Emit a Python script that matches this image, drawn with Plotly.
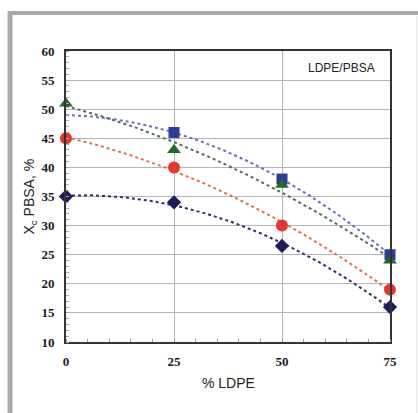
import numpy as np
import plotly.graph_objects as go

# Data
ldpe_pct = [0, 25, 50, 75]
ldpe_pct_blue = [25, 50, 75]
blue_sq = [46, 38, 25]
green_tri = [51, 43, 37, 24]
red_circ = [45, 40, 30, 19]
navy_dia = [35, 34, 26.5, 16]
x_ticks = [0, 25, 50, 75]
y_ticks = list(range(10, 61, 5))

series = [
    (ldpe_pct_blue, blue_sq, "square", "#2b3c9c", "#6e6cb8", 11),
    (ldpe_pct, green_tri, "triangle-up", "#1d6a2c", "#4d6e55", 12),
    (ldpe_pct, red_circ, "circle", "#e8342a", "#f06a48", 12),
    (ldpe_pct, navy_dia, "diamond", "#1b1b5e", "#2f2f6e", 11),
]

fig = go.Figure()
xf = np.linspace(0, 75, 151)
# polynomial (order 2) trendlines, as in the original spreadsheet chart
for xs, ys, sym, mc, lc, ms in series:
    coef = np.polyfit(xs, ys, 2)
    fig.add_trace(go.Scatter(x=xf, y=np.polyval(coef, xf), mode="lines",
                             line=dict(color=lc, width=2, dash="dot"),
                             hoverinfo="skip", showlegend=False))
for xs, ys, sym, mc, lc, ms in series:
    fig.add_trace(go.Scatter(x=xs, y=ys, mode="markers", cliponaxis=False,
                             marker=dict(symbol=sym, size=ms, color=mc,
                                         line=dict(width=0)),
                             showlegend=False))

tickfont = dict(family="Liberation Serif, Times New Roman, serif", size=13,
                color="#1a1a1a", weight="bold")
fig.update_xaxes(range=[0, 75], tickvals=x_ticks, showline=True, linewidth=2,
                 linecolor="#333333", mirror=True, showgrid=True,
                 gridcolor="#b4b4b4", gridwidth=1, zeroline=False,
                 ticks="", tickfont=tickfont, ticklabelstandoff=6, automargin=False,
                 minor=dict(dtick=5, ticks="inside", ticklen=3,
                            tickcolor="#999999", showgrid=False))
fig.update_yaxes(range=[10, 60], tickvals=y_ticks, showline=True, linewidth=2,
                 linecolor="#333333", mirror=True, showgrid=True,
                 gridcolor="#b4b4b4", gridwidth=1, zeroline=False,
                 ticks="", tickfont=tickfont, ticklabelstandoff=7, automargin=False,
                 minor=dict(dtick=1, ticks="inside", ticklen=3,
                            tickcolor="#aaaaaa", showgrid=False))

# axis titles
fig.add_annotation(x=0.5, y=-0.141, xref="paper", yref="paper",
                   xanchor="center", yanchor="middle",
                   text="% LDPE", showarrow=False,
                   font=dict(family="Liberation Sans", size=14, color="#222222"))
fig.add_annotation(x=-0.114, y=0.5, xref="paper", yref="paper",
                   xanchor="center", yanchor="middle",
                   text="X<sub>c</sub> PBSA, %", showarrow=False, textangle=-90,
                   font=dict(family="Liberation Sans", size=14, color="#222222"))

fig.add_annotation(x=0.849, y=0.942, xref="paper", yref="paper",
                   xanchor="center", yanchor="middle",
                   text="LDPE/PBSA", showarrow=False,
                   font=dict(family="Liberation Sans", size=12, color="#222222"))

# gray frame around the figure
fig.add_shape(type="line", xref="paper", yref="paper", x0=-0.179, x1=1.09,
              y0=1.1306, y1=1.1306, line=dict(color="#a9a9ab", width=4))
fig.add_shape(type="line", xref="paper", yref="paper", x0=-0.1728, x1=-0.1728,
              y0=1.137, y1=-0.3, line=dict(color="#a9a9ab", width=5))
fig.add_shape(type="line", xref="paper", yref="paper", x0=1.0818, x1=1.0818,
              y0=1.12, y1=-0.3, line=dict(color="#e6e6ea", width=1))

fig.update_layout(width=418, height=413, margin=dict(l=66, r=28, t=51, b=71),
                  paper_bgcolor="white", plot_bgcolor="white")
fig.write_html("out.html", config={"displayModeBar": False},
               post_script="document.body.style.margin='0';document.body.style.overflow='hidden';")
